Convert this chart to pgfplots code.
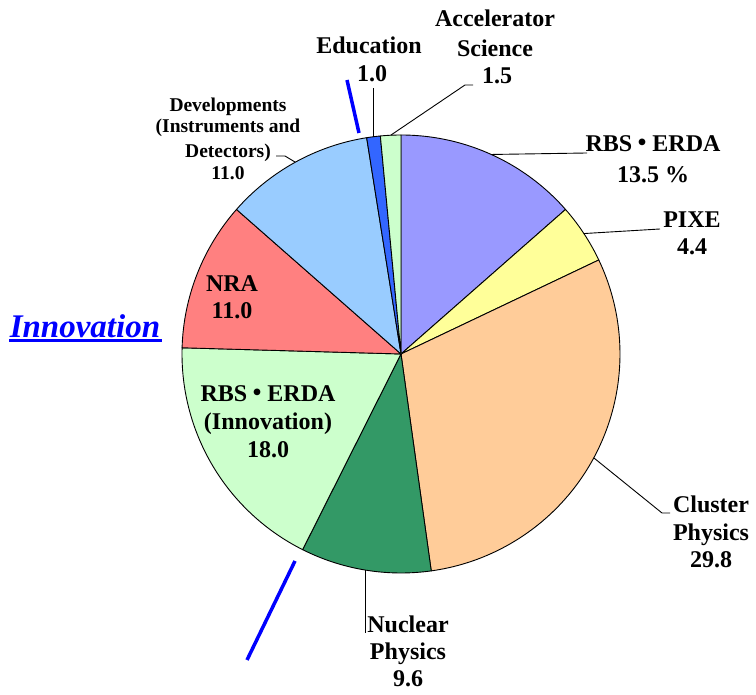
\documentclass[border=0pt]{standalone}
\usepackage{pgfplots}
\usepackage{pgfplotstable}
\pgfplotsset{compat=1.18}
\usepackage{fontspec}
\setmainfont{Liberation Serif}
\newfontfamily\cjk{Noto Sans CJK JP}
\definecolor{cA}{HTML}{9999FF}
\definecolor{cB}{HTML}{FFFF99}
\definecolor{cC}{HTML}{FFCC99}
\definecolor{cD}{HTML}{339966}
\definecolor{cE}{HTML}{CCFFCC}
\definecolor{cF}{HTML}{FF8080}
\definecolor{cG}{HTML}{99CCFF}
\definecolor{cH}{HTML}{3366FF}
\definecolor{cI}{HTML}{CCFFCC}
\newcommand\md{{\cjk\hspace{-0.08em}・\hspace{-0.08em}}}
\pgfplotstableread{
label value color
RBS-ERDA 13.5 cA
PIXE 4.4 cB
Cluster 29.8 cC
Nuclear 9.6 cD
RBS-Innov 18.0 cE
NRA 11.0 cF
Developments 11.0 cG
Education 1.0 cH
Accelerator 1.5 cI
}\piedata
\begin{document}
\begin{tikzpicture}
% pre-pass: total
\xdef\tot{0}
\foreach \i in {0,...,8}{
  \pgfplotstablegetelem{\i}{value}\of\piedata
  \pgfmathsetmacro\nt{\tot+\pgfplotsretval}
  \xdef\tot{\nt}
}
\xdef\cum{0}
\foreach \i in {0,...,8}{
  \pgfplotstablegetelem{\i}{value}\of\piedata
  \let\v\pgfplotsretval
  \pgfmathsetmacro\sa{90-\cum/\tot*360}
  \pgfmathsetmacro\nc{\cum+\v}
  \xdef\cum{\nc}
  \pgfmathsetmacro\sb{90-\cum/\tot*360}
  \pgfmathsetmacro\sm{(\sa+\sb)/2}
  \expandafter\xdef\csname sa\i\endcsname{\sa}
  \expandafter\xdef\csname sb\i\endcsname{\sb}
  \expandafter\xdef\csname sm\i\endcsname{\sm}
  \pgfplotstablegetelem{\i}{color}\of\piedata
  \expandafter\xdef\csname col\i\endcsname{\pgfplotsretval}
}
\begin{axis}[
  scale only axis, width=756pt, height=695pt,
  xmin=0, xmax=756, ymin=0, ymax=695,
  hide axis, clip=false,
]
\path (axis cs:0,0) rectangle (axis cs:756,695);
\pgfplotsinvokeforeach{0,...,8}{
  \filldraw[fill=\csname col#1\endcsname, draw=black, line width=0.9pt, line join=round]
    (axis cs:401,341) \foreach \t in {0,...,90}{
      -- (axis cs:{401+219*cos(\csname sa#1\endcsname+(\csname sb#1\endcsname-\csname sa#1\endcsname)*\t/90)},{341+219*sin(\csname sa#1\endcsname+(\csname sb#1\endcsname-\csname sa#1\endcsname)*\t/90)})
    } -- cycle;
}
% leader lines
\draw[line width=0.9pt] (axis cs:{401+219*cos(\csname sm0\endcsname)},{341+219*sin(\csname sm0\endcsname)}) -- (axis cs:587,542);
\draw[line width=0.9pt] (axis cs:{401+219*cos(\csname sm1\endcsname)},{341+219*sin(\csname sm1\endcsname)}) -- (axis cs:660,466);
\draw[line width=0.9pt] (axis cs:{401+219*cos(\csname sm2\endcsname)},{341+219*sin(\csname sm2\endcsname)}) -- (axis cs:662,182) -- (axis cs:670,182);
\draw[line width=0.9pt] (axis cs:{401+219*cos(\csname sm3\endcsname)},{341+219*sin(\csname sm3\endcsname)}) -- (axis cs:{401+219*cos(\csname sm3\endcsname)},62);
\draw[line width=0.9pt] (axis cs:{401+219*cos(\csname sm6\endcsname)},{341+219*sin(\csname sm6\endcsname)}) -- (axis cs:285,539) -- (axis cs:276,539);
\draw[line width=0.9pt] (axis cs:{401+219*cos(\csname sm7\endcsname)},{341+219*sin(\csname sm7\endcsname)}) -- (axis cs:{401+219*cos(\csname sm7\endcsname)},607);
\draw[line width=0.9pt] (axis cs:{401+219*cos(\csname sm8\endcsname)},{341+219*sin(\csname sm8\endcsname)}) -- (axis cs:465,610) -- (axis cs:473,610);
% blue marker lines
\draw[blue, line width=3.5pt] (axis cs:347,615) -- (axis cs:359,562);
\draw[blue, line width=3.5pt] (axis cs:295,134) -- (axis cs:247,35);
% labels
\tikzset{lb/.style={anchor=base, inner sep=0pt, font=\bfseries\fontsize{24}{27.5}\selectfont},
         ls/.style={anchor=base, inner sep=0pt, font=\bfseries\fontsize{19.5}{22.5}\selectfont}}
\node[lb] at (axis cs:495,668) {Accelerator};
\node[lb] at (axis cs:495,638) {Science};
\node[lb] at (axis cs:497,611) {1.5};
\node[lb] at (axis cs:369,641) {Education};
\node[lb] at (axis cs:372,613) {1.0};
\node[ls] at (axis cs:228,583) {Developments};
\node[ls] at (axis cs:228,562) {(Instruments and};
\node[ls] at (axis cs:228,537) {Detectors)};
\node[ls] at (axis cs:228,515) {11.0};
\node[lb] at (axis cs:653,543) {RBS\md ERDA};
\node[lb] at (axis cs:653,512) {13.5 \%};
\node[lb] at (axis cs:692,467) {PIXE};
\node[lb] at (axis cs:692,440) {4.4};
\node[lb] at (axis cs:711,182) {Cluster};
\node[lb] at (axis cs:711,154) {Physics};
\node[lb] at (axis cs:711,127) {29.8};
\node[lb] at (axis cs:408,62) {Nuclear};
\node[lb] at (axis cs:408,35) {Physics};
\node[lb] at (axis cs:408,8) {9.6};
\node[lb] at (axis cs:232,403) {NRA};
\node[lb] at (axis cs:232,376) {11.0};
\node[lb] at (axis cs:268,293) {RBS\md ERDA};
\node[lb] at (axis cs:268,265) {(Innovation)};
\node[lb] at (axis cs:268,237) {18.0};
\node[anchor=base, inner sep=0pt, text=blue, font=\bfseries\itshape\fontsize{33}{38}\selectfont] at (axis cs:85,357) {Innovation};
\draw[blue, line width=2.5pt] (axis cs:9,354.5) -- (axis cs:162,354.5);
\end{axis}
\end{tikzpicture}
\end{document}
